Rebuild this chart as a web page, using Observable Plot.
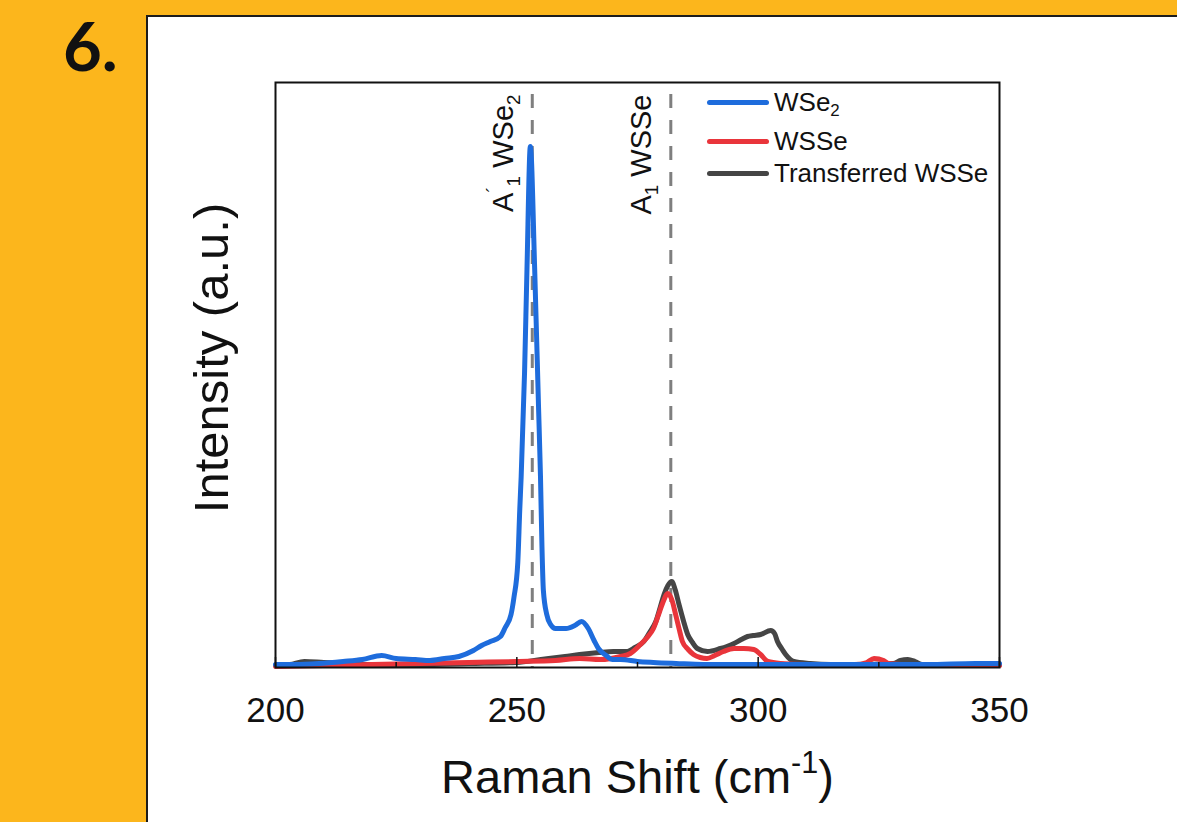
<!DOCTYPE html>
<html><head><meta charset="utf-8">
<script src="https://cdn.jsdelivr.net/npm/d3@7"></script>
<script src="https://cdn.jsdelivr.net/npm/@observablehq/plot@0.6"></script>
<style>
body{margin:0;background:#FCB61C;}
#wrap{position:relative;width:1177px;height:822px;overflow:hidden;background:#FCB61C;font-family:"Liberation Sans",Arial,sans-serif;}
#num{position:absolute;left:63px;top:12px;font:700 67px/67px Lato,sans-serif;color:#111;}
#panel{position:absolute;left:146px;top:15px;width:1100px;height:900px;background:#fff;border:2px solid #1c1c1c;box-sizing:border-box;}
#chart{position:absolute;left:0;top:0;}
#legend{position:absolute;left:0;top:0;}
.lg{position:absolute;height:30px;display:flex;align-items:center;font-size:26px;color:#111;white-space:nowrap;}
.lg i{display:inline-block;width:62px;height:5px;border-radius:3px;margin-right:5px;}
.lg sub{font-size:65%;vertical-align:-0.3em;line-height:0;}
</style></head>
<body><div id="wrap">
<div id="num">6.</div>
<div id="panel"></div>
<div id="chart"></div>
<div id="legend"></div>
</div>
<script>
// ---- data ----
const seriesNames = ["WSe_{2}", "WSSe", "Transferred WSSe"];
const seriesColors = ["#1E6CDC", "#E9353B", "#454545"];

const wse2Shift = [200,204,209,214,218,222,225,229,232,235,238,241,242.7,244.5,246.6,247.6,248.8,249.4,250.2,250.6,250.9,251.6,252.1,252.8,253.7,254.5,254.9,255.2,255.5,256.2,257,258,260.2,262,263.4,264.8,266,266.9,268.5,269.8,271.5,275,278.3,283,288.7,295,305,315,325,335,345,350];
const wse2Intensity = [3,3,4,6,8,12,9,8,7,9,11,17,22,26,31,40,53,70,105,157,191,295,398,521,398,260,191,122,77,53,43,39,39,42,46,39,27,19,12,8,8,6,5,4,3,3,3,3,3,3,4,4];

const wsseShift = [200,210,220,230,240,250,258,263,267.3,271.5,273.5,275.6,277,278.3,279.3,280.1,281.3,282.1,282.9,283.6,284.3,285.5,286.6,288,289.4,291,292.8,295,297,299.1,300.5,302,304.6,310,315,320,322.5,324,326,327,330,340,350];
const wsseIntensity = [1,2,3,4,5,6,7,9,8,11,14,23,30,39,52,63,74,68,53,39,26,18,13,10,9,12,16,19,19,18,13,6,4,3,3,3,5,9,7,4,3,2,2];

const transShift = [200,203,206,210,215,220,230,240,250,255,260,263,267,270,272.9,274.5,276.3,277.5,278.8,279.7,280.5,281.3,282.1,282.8,283.6,284.5,285.4,286.4,287.4,289.5,292.2,293.5,295,296.5,297.8,299,300.5,302.6,303.4,304,305,305.7,307.4,310.8,315,320,328,329.5,331,332.5,334,340,350];
const transIntensity = [2,3,6,5,4,3,3,4,5,8,11,13,15,16,16,20,26,35,46,60,73,82,86,78,63,47,33,25,19,16,19,21,24,28,31,32,33,37,34,26,18,13,6,4,3,3,4,7,8,6,3,3,3];

const peakShifts = [253.2, 281.9];
const peakLabels = ["A^{´}_{1} WSe_{2}", "A_{1} WSSe"];

const xTickLabels = [200, 250, 300, 350];
const xMajorTicks = [200, 250, 300, 350];
const xMinorTicks = [225, 275, 325];
const xTitle = "Raman Shift (cm^{-1})";
const yTitle = "Intensity (a.u.)";

// ---- build tables ----
const toRows = (xs, ys, name) => xs.map((x, i) => ({shift: x, intensity: ys[i], series: name}));
const wse2 = toRows(wse2Shift, wse2Intensity, seriesNames[0]);
const wsse = toRows(wsseShift, wsseIntensity, seriesNames[1]);
const trans = toRows(transShift, transIntensity, seriesNames[2]);
const peaks = peakShifts.map((p, i) => ({shift: p, label: peakLabels[i]}));

const W = 1177, H = 822;
const mL = 275, mR = 178, mT = 82, mB = 155;
const frameH = H - mT - mB;
const ink = "#111";

const chart = Plot.plot({
  width: W, height: H,
  marginLeft: mL, marginRight: mR, marginTop: mT, marginBottom: mB,
  style: {background: "transparent", overflow: "visible", fontFamily: "'Liberation Sans', Arial, sans-serif", color: ink},
  x: {domain: [200, 350]},
  y: {domain: [0, 585], axis: null},
  marks: [
    Plot.ruleX(peaks, {x: "shift", stroke: "#7f7f7f", strokeWidth: 3, strokeDasharray: "14,12", strokeDashoffset: 14}),
    Plot.line(trans, {x: "shift", y: "intensity", stroke: seriesColors[2], strokeWidth: 5, curve: "monotone-x"}),
    Plot.line(wsse, {x: "shift", y: "intensity", stroke: seriesColors[1], strokeWidth: 5, curve: "monotone-x"}),
    Plot.line(wse2, {x: "shift", y: "intensity", stroke: seriesColors[0], strokeWidth: 5, curve: "monotone-x"}),
    Plot.ruleX(xMajorTicks, {x: d => d, insetTop: frameH - 10, stroke: ink, strokeWidth: 1.5}),
    Plot.ruleX(xMinorTicks, {x: d => d, insetTop: frameH - 5, stroke: ink, strokeWidth: 1.5}),
    Plot.frame({stroke: ink, strokeWidth: 2}),
    Plot.axisX({ticks: xTickLabels, tickSize: 0, tickPadding: 30, fontSize: 35, label: null, tickFormat: d => String(d)}),
    Plot.text(peaks, {x: "shift", text: "label", frameAnchor: "top", rotate: -90, textAnchor: "end", lineAnchor: "middle", dx: -29, dy: 12, fontSize: 29, fill: ink}),
    Plot.text([xTitle], {text: d => d, frameAnchor: "bottom", textAnchor: "middle", dy: 110, lineAnchor: "middle", fontSize: 47, fill: ink}),
    Plot.text([yTitle], {text: d => d, frameAnchor: "left", textAnchor: "middle", dx: -63, dy: -17, rotate: -90, lineAnchor: "middle", fontSize: 49, fill: ink})
  ]
});
document.getElementById("chart").appendChild(chart);

// ---- turn _{..} / ^{..} markup into real sub/superscripts ----
function richify(root) {
  d3.select(root).selectAll("text").each(function() {
    const raw = this.textContent;
    if (!/[_^]\{/.test(raw)) return;
    const fs = parseFloat(getComputedStyle(this).fontSize) || 16;
    const parts = raw.match(/\^\{[^}]*\}|_\{[^}]*\}|[^_^]+/g);
    const el = d3.select(this);
    el.text(null);
    let offset = 0;
    parts.forEach(p => {
      let kind = "n", s = p;
      if (p.startsWith("^{")) { kind = "sup"; s = p.slice(2, -1); }
      else if (p.startsWith("_{")) { kind = "sub"; s = p.slice(2, -1); }
      const target = kind === "sup" ? -0.42 * fs : kind === "sub" ? 0.25 * fs : 0;
      const t = el.append("tspan").text(s).attr("dy", target - offset);
      if (kind !== "n") t.attr("font-size", (0.65 * fs) + "px");
      offset = target;
    });
  });
}
richify(chart);

// ---- legend ----
const legendRowsY = [102, 141, 173];
const lg = document.getElementById("legend");
seriesNames.forEach((name, i) => {
  const row = document.createElement("div");
  row.className = "lg";
  row.style.left = "707px";
  row.style.top = (legendRowsY[i] - 15) + "px";
  const sw = document.createElement("i");
  sw.style.background = seriesColors[i];
  row.appendChild(sw);
  const label = document.createElement("span");
  name.split(/(_\{[^}]*\})/).forEach(p => {
    if (p.startsWith("_{")) { const s = document.createElement("sub"); s.textContent = p.slice(2, -1); label.appendChild(s); }
    else if (p) label.appendChild(document.createTextNode(p));
  });
  row.appendChild(label);
  lg.appendChild(row);
});
</script>
</body></html>
